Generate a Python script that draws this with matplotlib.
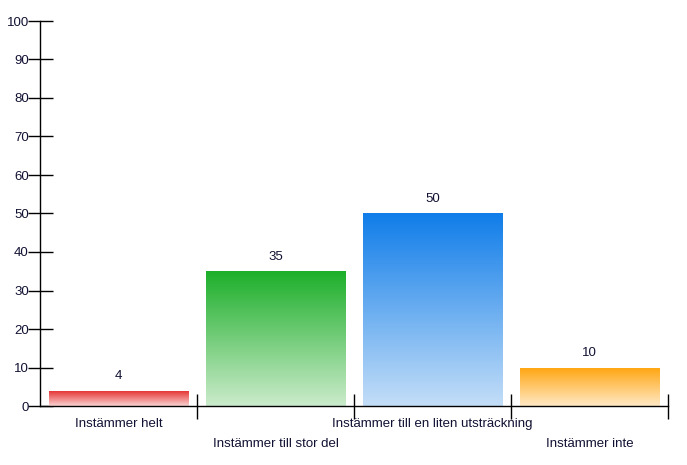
import matplotlib
matplotlib.use("Agg")
import matplotlib.pyplot as plt
from matplotlib.colors import LinearSegmentedColormap
from matplotlib.transforms import blended_transform_factory
import numpy as np

plt.rcParams['font.family'] = ['Liberation Sans', 'DejaVu Sans']

categories = ["Instämmer helt", "Instämmer till stor del",
              "Instämmer till en liten utsträckning", "Instämmer inte"]
values = [4, 35, 50, 10]
top_colors = ["#e42c2c", "#1daf2a", "#107de9", "#ffa50f"]
bottom_colors = ["#fad4d4", "#cbebcb", "#c4def8", "#ffe9c6"]

fig = plt.figure(figsize=(6.87, 4.65), dpi=100)
ax = fig.add_axes([40 / 687, 59 / 465, 628 / 687, 385 / 465])

x = np.arange(len(categories))
bars = ax.bar(x, values, width=0.89, color="none", edgecolor="none", zorder=2)

# vertical gradient fill, clipped to each bar
grad = np.linspace(1, 0, 256).reshape(-1, 1)
for b, top, bot in zip(bars, top_colors, bottom_colors):
    cmap = LinearSegmentedColormap.from_list("g", [bot, top])
    x0, y0 = b.get_x(), b.get_y()
    im = ax.imshow(grad, cmap=cmap, aspect="auto", zorder=2,
                   extent=[x0, x0 + b.get_width(), y0, y0 + b.get_height()],
                   interpolation="bilinear")
    im.set_clip_path(b)

for xi, v in zip(x, values):
    ax.annotate(str(v), (xi, v), xytext=(0, 6), textcoords="offset points",
                ha="center", va="bottom", fontsize=9.5, color="#111133")

ax.set_xlim(-0.5, 3.5)
ax.set_ylim(0, 100)
ax.set_yticks(range(0, 101, 10))
ax.set_xticks([0.5, 1.5, 2.5, 3.5])
ax.set_xticklabels([])
ax.tick_params(axis="both", direction="inout", length=18, width=1, labelsize=9.5, pad=0)
ax.tick_params(axis="y", pad=-1, labelcolor="#111133")

for s in ["top", "right"]:
    ax.spines[s].set_visible(False)
for s in ["left", "bottom"]:
    ax.spines[s].set_linewidth(1)

trans = blended_transform_factory(ax.transData, ax.transAxes)
for i, c in enumerate(categories):
    yoff = -0.047 if i % 2 == 0 else -0.099
    ax.text(i, yoff, c, transform=trans, ha="center", va="center", fontsize=9.5,
            color="#111133")

fig.savefig("out.png", dpi=100)
